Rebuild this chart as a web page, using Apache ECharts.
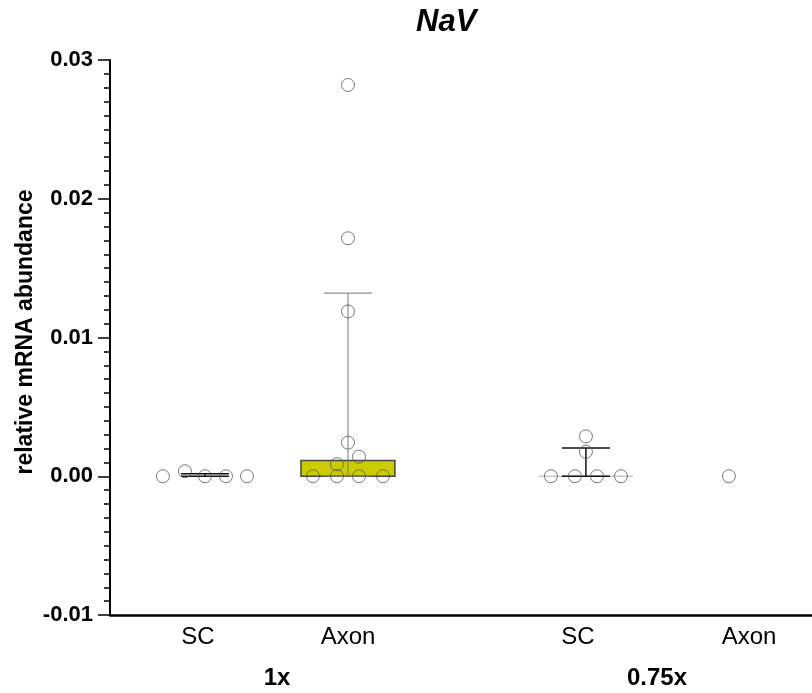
<!DOCTYPE html>
<html>
<head>
<meta charset="utf-8">
<script src="https://cdn.jsdelivr.net/npm/echarts@6/dist/echarts.min.js"></script>
<style>
    html, body { margin: 0; padding: 0; background: #fff; }
    #chart { width: 812px; height: 693px; }
</style>
</head>
<body>
<div id="chart"></div>
<script>
    // groups along the x axis
    var groupNames = ['SC', 'Axon', 'SC', 'Axon']
    var doseNames = ['1x', '0.75x']
    var groupPos = [0, 1, 2.664, 3.664]

    // individual samples (value + horizontal scatter offset)
    var sc1xValues = [0, 0.00036, 0, 0, 0]
    var sc1xJitter = [-0.294, -0.14, 0, 0.147, 0.294]
    var axon1xValues = [0, 0, 0, 0, 0.00087, 0.00141, 0.00242, 0.01188, 0.01715, 0.0282]
    var axon1xJitter = [-0.245, -0.077, 0.077, 0.245, -0.077, 0.077, 0, 0, 0, 0]
    var sc075Values = [0, 0, 0, 0, 0.00177, 0.00287]
    var sc075Jitter = [-0.245, -0.077, 0.077, 0.245, 0, 0]
    var axon075Values = [0]
    var axon075Jitter = [0]

    var yMin = -0.01
    var yMax = 0.03
    var yStep = 0.01

    var allValues = [sc1xValues, axon1xValues, sc075Values, axon075Values]
    var allJitter = [sc1xJitter, axon1xJitter, sc075Jitter, axon075Jitter]

    // bar + whisker styles per group
    var barFill = ['#d0d0d0', '#cccc00', '#d0d0d0', '#ffffff']
    var barStroke = ['none', '#444444', '#c8c8c8', 'none']
    var whiskerColor = ['#111111', '#777777', '#111111', 'none']
    var whiskerWidth = [1.5, 1, 1.5, 0]
    var barWidth = 0.657
    var capWidth = 0.336

    // median with interquartile range (n+1 percentile method)
    function quantile(arr, p) {
        var s = arr.slice().sort(function(a, b) { return a - b })
        var n = s.length
        var pos = p * (n + 1)
        if (pos <= 1) return s[0]
        if (pos >= n) return s[n - 1]
        var lo = Math.floor(pos)
        return s[lo - 1] + (pos - lo) * (s[lo] - s[lo - 1])
    }
    function median(arr) {
        var s = arr.slice().sort(function(a, b) { return a - b })
        var n = s.length
        return n % 2 ? s[(n - 1) / 2] : (s[n / 2 - 1] + s[n / 2]) / 2
    }

    var barData = []
    var whiskerData = []
    var pointData = []
    allValues.forEach(function(vals, g) {
        barData.push([groupPos[g], median(vals), g])
        if (vals.length > 1) {
            whiskerData.push([groupPos[g], quantile(vals, 0.25), quantile(vals, 0.75), g])
        }
        vals.forEach(function(v, i) {
            pointData.push([groupPos[g] + allJitter[g][i], v])
        })
    })

    var myChart = echarts.init(document.getElementById('chart'))

    var option = {
        animation: false,
        title: {
            text: 'NaV',
            left: 411,
            top: 2,
            textStyle: {
                fontFamily: 'Liberation Sans',
                fontSize: 31,
                fontWeight: 'bold',
                fontStyle: 'italic',
                color: '#000'
            }
        },
        grid: {
            left: 110,
            right: 0,
            top: 60,
            bottom: 78
        },
        xAxis: {
            type: 'value',
            min: -0.664,
            max: 4.245,
            axisLine: {
                onZero: false,
                lineStyle: { color: '#000', width: 2.5 }
            },
            axisTick: { show: false },
            axisLabel: { show: false },
            splitLine: { show: false }
        },
        yAxis: {
            type: 'value',
            min: yMin,
            max: yMax,
            interval: yStep,
            axisLine: {
                show: true,
                onZero: false,
                lineStyle: { color: '#000', width: 2 }
            },
            axisTick: {
                show: true,
                length: 12,
                lineStyle: { color: '#000', width: 1.5 }
            },
            minorTick: {
                show: true,
                splitNumber: 10,
                length: 6,
                lineStyle: { color: '#000', width: 1.5 }
            },
            axisLabel: {
                margin: 17,
                fontFamily: 'Liberation Sans',
                fontSize: 22,
                fontWeight: 'bold',
                color: '#000',
                formatter: function(v) {
                    return v.toFixed(2)
                }
            },
            splitLine: { show: false }
        },
        series: [
            {
                type: 'custom',
                z: 1,
                data: barData,
                renderItem: function(params, api) {
                    var g = api.value(2)
                    var p0 = api.coord([api.value(0), 0])
                    var p1 = api.coord([api.value(0), api.value(1)])
                    var w = api.size([barWidth, 0])[0]
                    return {
                        type: 'rect',
                        shape: {
                            x: p0[0] - w / 2,
                            y: Math.min(p0[1], p1[1]),
                            width: w,
                            height: Math.abs(p0[1] - p1[1])
                        },
                        style: {
                            fill: barFill[g],
                            stroke: barStroke[g],
                            lineWidth: 1.5
                        }
                    }
                }
            },
            {
                type: 'custom',
                z: 2,
                data: whiskerData,
                renderItem: function(params, api) {
                    var g = api.value(3)
                    var x = api.value(0)
                    var lo = api.coord([x, api.value(1)])
                    var hi = api.coord([x, api.value(2)])
                    var c = api.size([capWidth, 0])[0] / 2
                    var st = { stroke: whiskerColor[g], lineWidth: whiskerWidth[g] }
                    return {
                        type: 'group',
                        children: [
                            { type: 'line', shape: { x1: lo[0], y1: lo[1], x2: hi[0], y2: hi[1] }, style: st },
                            { type: 'line', shape: { x1: hi[0] - c, y1: hi[1], x2: hi[0] + c, y2: hi[1] }, style: st },
                            { type: 'line', shape: { x1: lo[0] - c, y1: lo[1], x2: lo[0] + c, y2: lo[1] }, style: st }
                        ]
                    }
                }
            },
            {
                type: 'scatter',
                z: 3,
                data: pointData,
                symbol: 'circle',
                symbolSize: 13,
                itemStyle: {
                    color: 'rgba(0,0,0,0)',
                    borderColor: '#555',
                    borderWidth: 1
                }
            }
        ],
        graphic: [
            {
                type: 'text',
                x: 26,
                y: 332,
                rotation: Math.PI / 2,
                style: {
                    text: 'relative mRNA abundance',
                    fontFamily: 'Liberation Sans',
                    fontSize: 23,
                    fontWeight: 'bold',
                    fill: '#000',
                    align: 'center',
                    verticalAlign: 'middle'
                }
            },
            { type: 'text', x: 198, y: 637, style: { text: groupNames[0], fontFamily: 'Liberation Sans', fontSize: 24, fill: '#000', align: 'center', verticalAlign: 'middle' } },
            { type: 'text', x: 348, y: 637, style: { text: groupNames[1], fontFamily: 'Liberation Sans', fontSize: 24, fill: '#000', align: 'center', verticalAlign: 'middle' } },
            { type: 'text', x: 578, y: 637, style: { text: groupNames[2], fontFamily: 'Liberation Sans', fontSize: 24, fill: '#000', align: 'center', verticalAlign: 'middle' } },
            { type: 'text', x: 749, y: 637, style: { text: groupNames[3], fontFamily: 'Liberation Sans', fontSize: 24, fill: '#000', align: 'center', verticalAlign: 'middle' } },
            { type: 'text', x: 277, y: 678, style: { text: doseNames[0], fontFamily: 'Liberation Sans', fontSize: 24, fontWeight: 'bold', fill: '#000', align: 'center', verticalAlign: 'middle' } },
            { type: 'text', x: 657, y: 678, style: { text: doseNames[1], fontFamily: 'Liberation Sans', fontSize: 24, fontWeight: 'bold', fill: '#000', align: 'center', verticalAlign: 'middle' } }
        ]
    }

    myChart.setOption(option)
</script>
</body>
</html>
